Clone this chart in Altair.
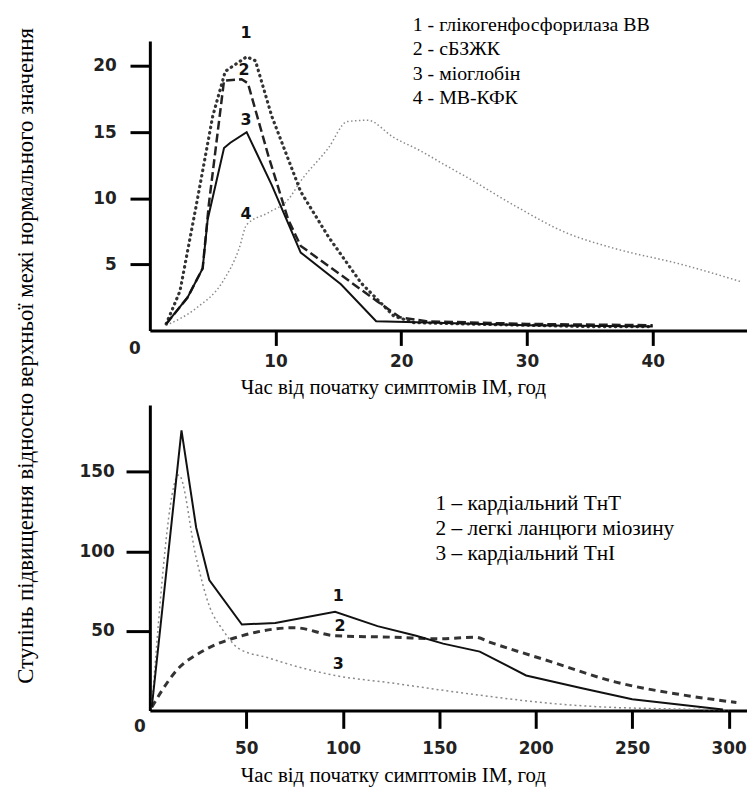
import altair as alt
import pandas as pd

# ---------------- data: top panel (hours, multiple of upper normal limit)
top_t1 = [1.3, 2.4, 3.7, 5.0, 6.0, 7.7, 8.4, 9.7, 12.0, 14.2, 16.8, 19.4, 21.0, 25.0, 30.0, 35.0, 40.0]
top_v1 = [0.5, 3.0, 9.5, 16.2, 19.6, 20.7, 20.4, 16.2, 10.5, 7.1, 3.6, 1.1, 0.6, 0.5, 0.4, 0.3, 0.3]

top_t2 = [1.3, 3.0, 4.2, 4.7, 5.9, 7.3, 7.8, 9.4, 11.0, 12.0, 15.2, 18.1, 19.9, 22.0, 30.0, 40.0]
top_v2 = [0.5, 2.5, 4.7, 9.6, 18.9, 19.0, 18.7, 13.3, 8.4, 6.4, 4.2, 2.2, 1.0, 0.7, 0.5, 0.4]

top_t3 = [1.3, 3.0, 4.2, 4.6, 5.9, 6.4, 7.7, 9.7, 12.0, 15.2, 18.0, 22.0, 30.0, 40.0]
top_v3 = [0.5, 2.5, 4.7, 8.4, 13.8, 14.2, 15.0, 11.0, 5.9, 3.5, 0.7, 0.6, 0.4, 0.3]

top_t4 = [1.3, 3.7, 5.8, 7.1, 7.7, 9.4, 11.0, 12.0, 14.2, 15.7, 17.3, 19.4, 21.5, 23.7, 25.2, 29.1, 33.1, 37.0, 42.3, 47.0]
top_v4 = [0.4, 1.7, 3.7, 6.2, 8.0, 8.9, 9.9, 11.3, 13.8, 15.8, 15.9, 14.6, 13.6, 12.4, 11.6, 9.4, 7.4, 6.2, 5.0, 3.7]

top_lab_t = [7.65, 7.5, 7.65, 7.65]
top_lab_v = [22.5, 19.7, 15.9, 8.8]
top_lab_txt = ["1", "2", "3", "4"]

top_legend = ["1 - глікогенфосфорилаза ВВ", "2 - сБЗЖК", "3 - міоглобін", "4 - МВ-КФК"]
top_xticks = [10, 20, 30, 40]
top_yticks = [5, 10, 15, 20]

# ---------------- data: bottom panel
bot_t1 = [1, 16.4, 24, 30.8, 47.7, 65, 96, 118, 138, 152, 171, 195, 224, 250, 297]
bot_v1 = [2, 176, 115, 82, 54, 55, 62, 53, 47, 42, 37, 22, 14, 7, 0.6]

bot_t2 = [1, 6, 13.7, 27, 48, 75, 96, 127, 150, 169, 176, 207, 241, 275, 304]
bot_v2 = [2, 12, 25, 37, 47, 52, 47, 46, 45, 46, 43, 31, 18, 10, 5]

bot_t3 = [1, 15, 24, 31, 37.6, 46, 61.5, 78, 96, 127, 150, 175, 203, 230, 270, 300]
bot_v3 = [2, 148, 96, 65, 51, 39, 33, 27, 22, 17, 13, 9, 5, 2.5, 1, 0.5]

bot_lab_t = [97.7, 98.5, 97.7]
bot_lab_v = [72, 53, 29]
bot_lab_txt = ["1", "2", "3"]

bot_legend = ["1 – кардіальний ТнТ", "2 – легкі ланцюги міозину", "3 – кардіальний ТнІ"]
bot_xticks = [50, 100, 150, 200, 250, 300]
bot_yticks = [50, 100, 150]

x_title = "Час від початку симптомів ІМ, год"
y_title = "Ступінь підвищення відносно верхньої межі нормального значення"

SERIF = "Liberation Serif, Times New Roman, serif"
SANS = "DejaVu Sans"


def df_of(t, v):
    return pd.DataFrame({"t": t, "v": v})


# ---------------- encodings
top_X = alt.X("t:Q", scale=alt.Scale(domain=[0, 47.5], nice=False),
              axis=alt.Axis(values=top_xticks, title=x_title, titleX=245, titleY=57,
                            titleAlign="center", titleBaseline="middle",
                            tickSize=15, labelPadding=8))
top_Y = alt.Y("v:Q", scale=alt.Scale(domain=[0, 21.9], nice=False),
              axis=alt.Axis(values=top_yticks, title=y_title, titleAngle=270,
                            titleX=-125, titleY=317, titleAlign="center",
                            titleBaseline="middle", titleFontSize=23,
                            tickSize=20, labelPadding=14))

bot_X = alt.X("t:Q", scale=alt.Scale(domain=[0, 309.5], nice=False),
              axis=alt.Axis(values=bot_xticks, title=x_title, titleX=245, titleY=66,
                            titleAlign="center", titleBaseline="middle",
                            tickSize=18, labelPadding=12))
bot_Y = alt.Y("v:Q", scale=alt.Scale(domain=[0, 192], nice=False),
              axis=alt.Axis(values=bot_yticks, title=None, tickSize=24, labelPadding=12))


def line(t, v, X, Y, color, width, dash=None, interp="linear", cap="butt"):
    kw = dict(color=color, strokeWidth=width, interpolate=interp, strokeCap=cap)
    if dash:
        kw["strokeDash"] = dash
    return alt.Chart(df_of(t, v)).mark_line(**kw).encode(x=X, y=Y)


def num_labels(t, v, txt, X, Y):
    d = pd.DataFrame({"t": t, "v": v, "lab": txt})
    return alt.Chart(d).mark_text(font=SANS, fontWeight="bold", fontSize=16,
                                  color="#111").encode(x=X, y=Y, text="lab:N")


def zero_label(X, Y, dx, dy):
    d = pd.DataFrame({"t": [0], "v": [0], "lab": ["0"]})
    return alt.Chart(d).mark_text(font=SANS, fontWeight="bold", fontSize=17,
                                  color="#222", dx=dx, dy=dy).encode(x=X, y=Y, text="lab:N")


def legend(lines, px, py, size, lh):
    d = pd.DataFrame({"k": [0]})
    return alt.Chart(d).mark_text(font=SERIF, fontSize=size, align="left",
                                  baseline="top", lineHeight=lh, color="black").encode(
        x=alt.value(px), y=alt.value(py), text=alt.value(lines))


top = alt.layer(
    line(top_t4, top_v4, top_X, top_Y, "#8a8a8a", 1.5, [1.5, 2.5], "monotone"),
    line(top_t1, top_v1, top_X, top_Y, "#333333", 3.2, [0.5, 5], "linear", "round"),
    line(top_t2, top_v2, top_X, top_Y, "#222222", 2.5, [9, 4]),
    line(top_t3, top_v3, top_X, top_Y, "#111111", 2),
    num_labels(top_lab_t, top_lab_v, top_lab_txt, top_X, top_Y),
    zero_label(top_X, top_Y, -15, 19),
    legend(top_legend, 265, -26, 20, 24.5),
).properties(width=602, height=292)

bottom = alt.layer(
    line(bot_t3, bot_v3, bot_X, bot_Y, "#8a8a8a", 1.5, [2, 3], "monotone"),
    line(bot_t2, bot_v2, bot_X, bot_Y, "#333333", 3, [7, 5], "monotone"),
    line(bot_t1, bot_v1, bot_X, bot_Y, "#111111", 2),
    num_labels(bot_lab_t, bot_lab_v, bot_lab_txt, bot_X, bot_Y),
    zero_label(bot_X, bot_Y, -10, 17),
    legend(bot_legend, 288, 89, 21.5, 25),
).properties(width=602, height=308)

chart = alt.vconcat(top, bottom, spacing=75, bounds="flush").properties(
    padding={"left": 6, "top": 4, "right": 0, "bottom": 0}
).configure_view(stroke=None).configure_axis(
    grid=False,
    domainColor="black", domainWidth=3,
    tickColor="black", tickWidth=3,
    labelFont=SANS, labelFontWeight="bold", labelFontSize=17, labelColor="#222",
    titleFont=SERIF, titleFontWeight="normal", titleFontSize=21, titleColor="black",
).configure_concat(spacing=75)

chart.save("out.html", embed_options={"renderer": "svg", "actions": False})
